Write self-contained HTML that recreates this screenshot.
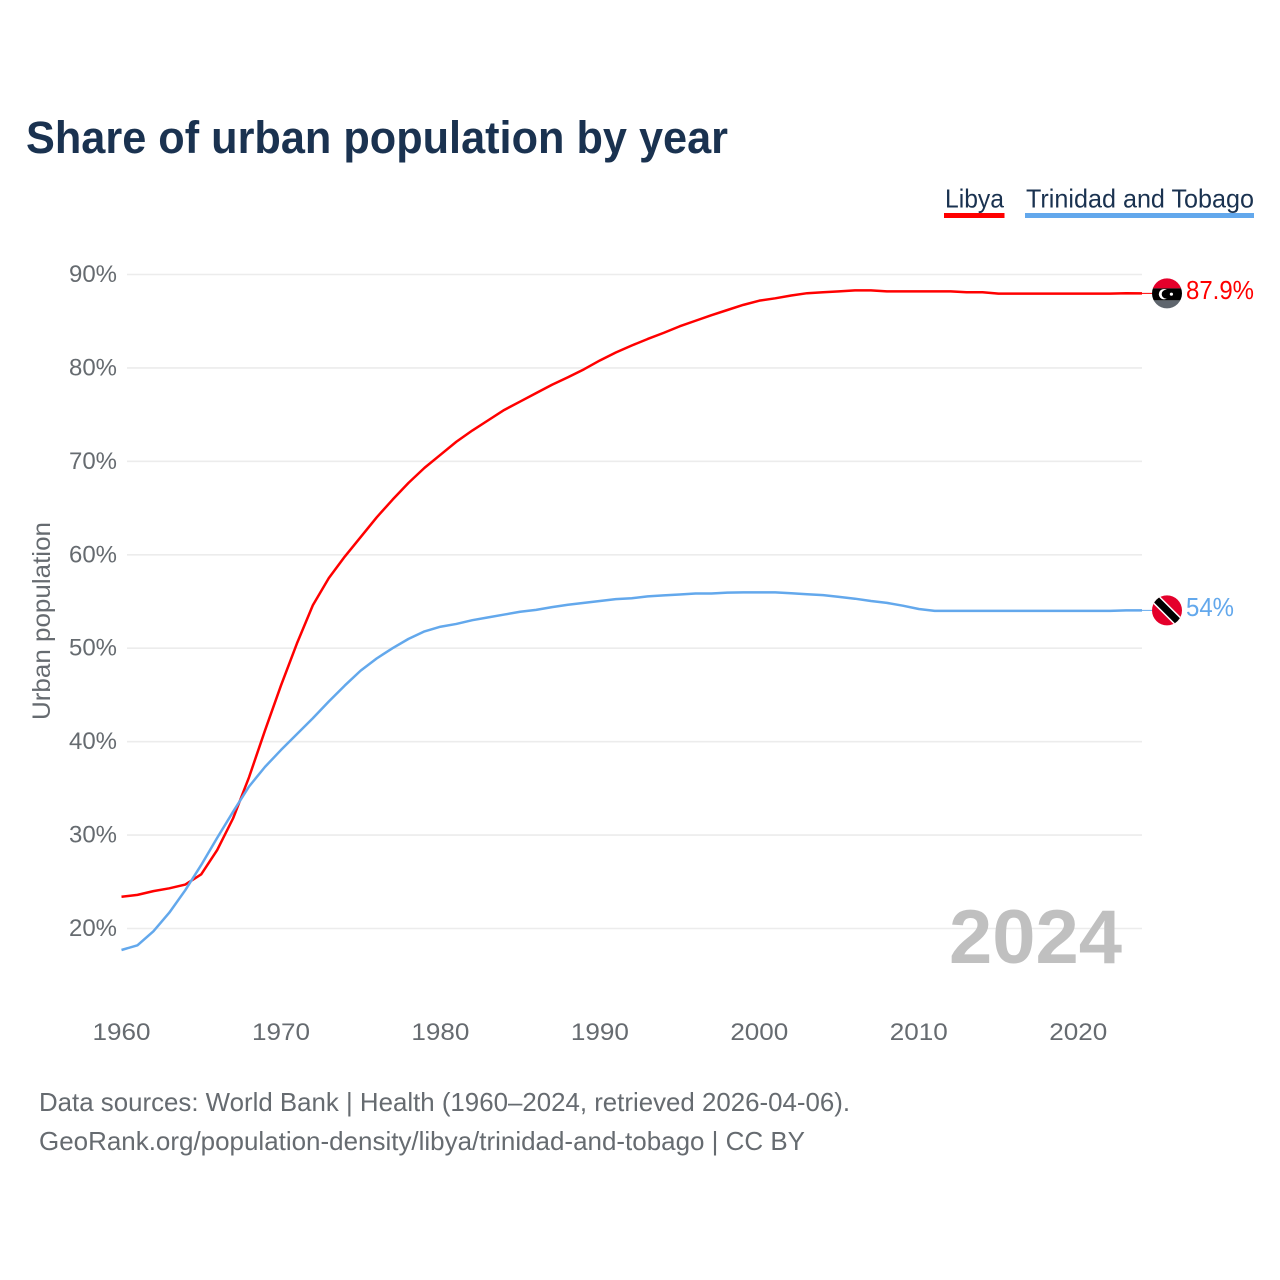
<!DOCTYPE html>
<html lang="en">
<head>
<meta charset="utf-8">
<title>Share of urban population by year</title>
<style>
html,body{margin:0;padding:0;background:#fff;width:1280px;height:1280px;overflow:hidden}
svg{display:block}
text{font-family:"Liberation Sans",sans-serif}
</style>
</head>
<body>
<svg id="chart" xmlns="http://www.w3.org/2000/svg" width="1280" height="1280" viewBox="0 0 1280 1280">
  <defs>
    <clipPath id="flag-clip-libya"><circle id="clip-libya" cx="0" cy="0" r="15"></circle></clipPath>
    <clipPath id="flag-clip-tt"><circle id="clip-tt" cx="0" cy="0" r="15"></circle></clipPath>
  </defs>
  <text x="26" y="153" font-size="45" font-weight="700" fill="#1a3250" textLength="702" lengthAdjust="spacingAndGlyphs">Share of urban population by year</text>
  <text x="945" y="207.5" font-size="26" fill="#1a3250" textLength="59" lengthAdjust="spacingAndGlyphs">Libya</text>
  <rect x="944" y="213" width="60.5" height="5" fill="#ff0000"></rect>
  <text x="1026" y="207.5" font-size="26" fill="#1a3250" textLength="228" lengthAdjust="spacingAndGlyphs">Trinidad and Tobago</text>
  <rect x="1025" y="213" width="229" height="5" fill="#63a8ec"></rect>
  <g id="grid"></g>
  <g id="y-ticks"></g>
  <g id="x-ticks"></g>
  <text transform="translate(50,621) rotate(-90)" text-anchor="middle" font-size="25" fill="#666b70" textLength="198" lengthAdjust="spacingAndGlyphs">Urban population</text>
  <text x="1122" y="963" text-anchor="end" font-size="76" font-weight="700" fill="#c0c0c0" textLength="173" lengthAdjust="spacingAndGlyphs">2024</text>
  <g id="series"></g>
  <g id="flag-libya">
    <g clip-path="url(#flag-clip-libya)">
      <rect x="-16" y="-16" width="32" height="11" fill="#e4002b"></rect>
      <rect x="-16" y="-5" width="32" height="12" fill="#000"></rect>
      <rect x="-16" y="7" width="32" height="9" fill="#5f666e"></rect>
      <circle cx="-3" cy="0.8" r="5.2" fill="#fff"></circle>
      <circle cx="-0.9" cy="0.8" r="4.4" fill="#000"></circle>
      <circle cx="4.4" cy="0.8" r="1.6" fill="#fff"></circle>
    </g>
  </g>
  <g id="flag-tt">
    <g clip-path="url(#flag-clip-tt)">
      <rect x="-16" y="-16" width="32" height="32" fill="#e4002b"></rect>
      <line x1="-16" y1="-16" x2="16" y2="16" stroke="#fff" stroke-width="10"></line>
      <line x1="-16" y1="-16" x2="16" y2="16" stroke="#000" stroke-width="7"></line>
    </g>
  </g>
  <g id="end-labels"></g>
  <text x="39" y="1111" font-size="26" fill="#666b70" textLength="811" lengthAdjust="spacingAndGlyphs">Data sources: World Bank | Health (1960–2024, retrieved 2026-04-06).</text>
  <text x="39" y="1150" font-size="26" fill="#666b70" textLength="766" lengthAdjust="spacingAndGlyphs">GeoRank.org/population-density/libya/trinidad-and-tobago | CC BY</text>
</svg>
<script>
const years = [1960,1961,1962,1963,1964,1965,1966,1967,1968,1969,1970,1971,1972,1973,1974,1975,1976,1977,1978,1979,1980,1981,1982,1983,1984,1985,1986,1987,1988,1989,1990,1991,1992,1993,1994,1995,1996,1997,1998,1999,2000,2001,2002,2003,2004,2005,2006,2007,2008,2009,2010,2011,2012,2013,2014,2015,2016,2017,2018,2019,2020,2021,2022,2023,2024];
const libyaValues = [23.4,23.6,24.0,24.3,24.7,25.8,28.4,31.8,36.2,41.2,46.0,50.5,54.6,57.5,59.8,61.9,64.0,65.9,67.7,69.3,70.7,72.1,73.3,74.4,75.5,76.4,77.3,78.2,79.0,79.85,80.8,81.65,82.4,83.1,83.75,84.45,85.05,85.65,86.2,86.75,87.2,87.45,87.75,88.0,88.1,88.2,88.3,88.3,88.2,88.2,88.2,88.2,88.2,88.1,88.1,87.95,87.95,87.95,87.95,87.95,87.95,87.95,87.95,88.0,87.98];
const trinidadValues = [17.7,18.2,19.7,21.7,24.1,26.8,29.7,32.5,35.2,37.3,39.1,40.8,42.5,44.3,46.0,47.6,48.9,50.0,51.0,51.8,52.3,52.6,53.0,53.3,53.6,53.9,54.1,54.4,54.65,54.85,55.05,55.25,55.35,55.55,55.65,55.75,55.85,55.85,55.95,55.98,55.98,55.98,55.88,55.78,55.68,55.5,55.3,55.05,54.85,54.55,54.2,54.0,54.0,54.0,54.0,54.0,54.0,54.0,54.0,54.0,54.0,54.0,54.0,54.05,54.05];
const yTickValues = [20,30,40,50,60,70,80,90];
const xTickValues = [1960,1970,1980,1990,2000,2010,2020];
const libyaEndLabel = '87.9%';
const trinidadEndLabel = '54%';

const SVGNS = 'http://www.w3.org/2000/svg';
function xScale(year){ return 121.5 + (year - 1960) * (1142 - 121.5) / 64; }
function yScale(value){ return 928.5 - (value - 20) * (928.5 - 274.5) / 70; }
function make(tag, attrs, parent){
  const el = document.createElementNS(SVGNS, tag);
  for (const k in attrs) el.setAttribute(k, attrs[k]);
  parent.appendChild(el);
  return el;
}

const gridG = document.getElementById('grid');
const yG = document.getElementById('y-ticks');
yTickValues.forEach(function(v){
  const line = make('line', {x1:127, x2:1142, y1:yScale(v), y2:yScale(v), stroke:'#ececec', 'stroke-width':1.6}, gridG);
  
  
  const t = make('text', {x:117, y:yScale(v) + 7.5, 'text-anchor':'end', 'font-size':24.5, fill:'#666b70', textLength:48, lengthAdjust:'spacingAndGlyphs'}, yG);
  
  
  t.textContent = v + '%';
});

const xG = document.getElementById('x-ticks');
xTickValues.forEach(function(y){
  const t = make('text', {x:xScale(y), y:1040, 'text-anchor':'middle', 'font-size':24.5, fill:'#666b70', textLength:58, lengthAdjust:'spacingAndGlyphs'}, xG);
  
  
  t.textContent = y;
});

function linePath(vals){
  return vals.map(function(v, i){
    return (i ? 'L' : 'M') + xScale(years[i]).toFixed(2) + ' ' + yScale(v).toFixed(2);
  }).join(' ');
}
const seriesG = document.getElementById('series');
const libyaPath = make('path', {d:linePath(libyaValues), fill:'none', stroke:'#ff0000', 'stroke-width':2.5, 'stroke-linejoin':'round'}, seriesG);


const ttPath = make('path', {d:linePath(trinidadValues), fill:'none', stroke:'#63a8ec', 'stroke-width':2.5, 'stroke-linejoin':'round'}, seriesG);



const lastLibya = libyaValues[libyaValues.length - 1];
const lastTT = trinidadValues[trinidadValues.length - 1];
const libyaLead = make('line', {x1:1142, x2:1152, y1:yScale(lastLibya), y2:yScale(lastLibya), stroke:'#ff0000', 'stroke-width':1}, seriesG);


const ttLead = make('line', {x1:1142, x2:1152, y1:yScale(lastTT), y2:yScale(lastTT), stroke:'#63a8ec', 'stroke-width':1}, seriesG);



document.getElementById('flag-libya').setAttribute('transform', 'translate(1167,' + yScale(lastLibya) + ')');
document.getElementById('flag-tt').setAttribute('transform', 'translate(1167,' + yScale(lastTT) + ')');

const endG = document.getElementById('end-labels');
const libyaText = make('text', {x:1186, y:yScale(lastLibya) + 5.5, 'font-size':25.5, fill:'#ff0000', textLength:68, lengthAdjust:'spacingAndGlyphs'}, endG);


libyaText.textContent = libyaEndLabel;
const ttText = make('text', {x:1186, y:yScale(lastTT) + 5.5, 'font-size':25.5, fill:'#63a8ec', textLength:48, lengthAdjust:'spacingAndGlyphs'}, endG);


ttText.textContent = trinidadEndLabel;
</script>
</body>
</html>
